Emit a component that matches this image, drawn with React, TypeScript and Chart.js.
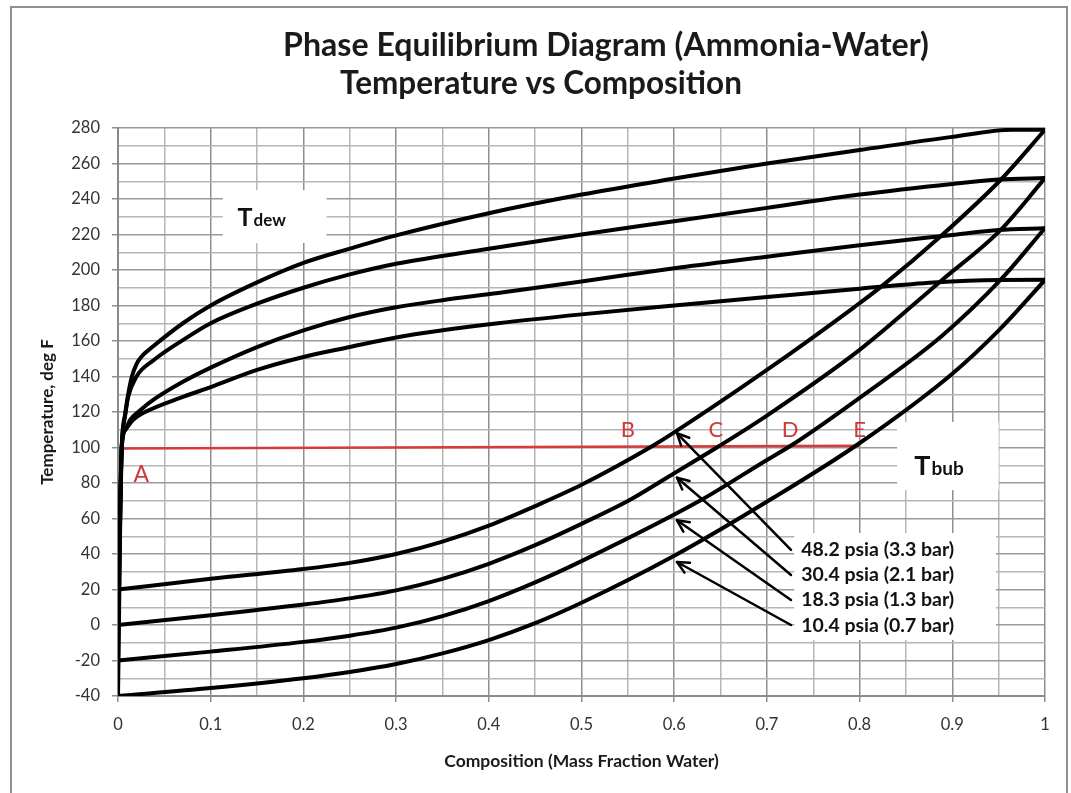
import React, { useEffect, useRef } from 'react';
import { Chart, registerables } from 'chart.js';

Chart.register(...registerables);

// ---------------- data ----------------
const PRESSURE_LABELS = ['48.2 psia (3.3 bar)', '30.4 psia (2.1 bar)', '18.3 psia (1.3 bar)', '10.4 psia (0.7 bar)'];

// Dew-point curves (upper), x = mass fraction water, T = deg F
const dew482X = [0, 0.004, 0.007, 0.01, 0.015, 0.02, 0.025, 0.038, 0.07, 0.1, 0.15, 0.2, 0.25, 0.3, 0.4, 0.5, 0.6, 0.7, 0.8, 0.9, 0.965, 1];
const dew482T = [20, 100, 116, 127, 140, 147, 151, 157, 170, 180, 193, 204, 212, 219.5, 232, 242.5, 251.5, 260, 267.6, 275, 279, 279];

const dew304X = [0, 0.004, 0.008, 0.011, 0.02, 0.038, 0.07, 0.1, 0.15, 0.2, 0.25, 0.3, 0.4, 0.5, 0.6, 0.7, 0.8, 0.9, 0.95, 1];
const dew304T = [0, 100, 119, 128.5, 140, 149, 160.5, 170, 181, 190, 197.5, 203.5, 212, 220, 227.5, 235, 242.5, 248.5, 251, 251.8];

const dew183X = [0, 0.004, 0.008, 0.013, 0.024, 0.038, 0.07, 0.1, 0.15, 0.2, 0.25, 0.3, 0.35, 0.41, 0.5, 0.6, 0.7, 0.8, 0.9, 0.95, 1];
const dew183T = [-20, 100, 110, 115.5, 121, 126.8, 137, 145, 156.6, 166, 173.5, 179, 183, 187, 193.5, 201, 207.5, 214, 219.7, 222.5, 223.5];

const dew104X = [0, 0.004, 0.008, 0.016, 0.027, 0.07, 0.1, 0.15, 0.2, 0.25, 0.3, 0.35, 0.41, 0.5, 0.6, 0.7, 0.8, 0.88, 0.95, 1];
const dew104T = [-40, 100, 110, 115.5, 119.4, 128.5, 134, 143.7, 151, 156.6, 162, 166, 170, 175, 180, 184.8, 189.5, 193, 194.4, 194.5];

// Bubble-point curves (lower)
const bub482X = [0, 0.1, 0.2, 0.25, 0.3, 0.35, 0.4, 0.45, 0.5, 0.577, 0.6, 0.7, 0.794, 0.823, 0.889, 0.952, 1];
const bub482T = [20, 26, 31.5, 35, 40, 47, 56, 67, 79, 101, 108.5, 143.7, 179, 190.5, 219.7, 250.7, 279];

const bub304X = [0, 0.1, 0.2, 0.25, 0.3, 0.35, 0.4, 0.45, 0.5, 0.552, 0.6, 0.649, 0.7, 0.8, 0.889, 0.952, 1];
const bub304T = [0, 5.5, 11.5, 15, 19.5, 26, 34.5, 45, 57, 70.4, 85.5, 101, 118, 155, 194.4, 222.5, 251.8];

const bub183X = [0, 0.1, 0.2, 0.25, 0.3, 0.35, 0.4, 0.45, 0.5, 0.629, 0.7, 0.727, 0.8, 0.889, 0.952, 1];
const bub183T = [-20, -15, -9.5, -6, -1.5, 5, 13.5, 24, 36, 70.4, 93, 101.4, 128, 163, 194.4, 223.7];

const bub104X = [0, 0.1, 0.2, 0.25, 0.3, 0.35, 0.4, 0.45, 0.5, 0.6, 0.703, 0.797, 0.9, 0.952, 1];
const bub104T = [-40, -35.5, -30, -26.5, -22, -16, -8.5, 1, 12.5, 39, 70.4, 101.4, 141.6, 167, 194.4];

// Red isotherm line A..E
const redX = [0.004, 0.8];
const redT = [99.4, 101];

// Point labels on the red line
const pointNames = ['A', 'B', 'C', 'D', 'E'];
const pointLabelX = [0.025, 0.55, 0.645, 0.725, 0.8];
const pointLabelT = [84.5, 110, 110, 110, 110];

// Arrows from pressure labels to bubble curves
const arrowTailX = [0.726, 0.726, 0.726, 0.726];
const arrowTailT = [42.3, 28.2, 14.1, 0];
const arrowHeadX = [0.603, 0.603, 0.603, 0.603];
const arrowHeadT = [108, 83, 59, 35.5];

// Pressure label anchors (left edge, vertical centre)
const pLabelX = 0.737;
const pLabelT = [42.3, 28.2, 14.1, -0.3];

// ---------------- helpers ----------------
const pts = (xs: number[], ts: number[]) => xs.map((x, i) => ({ x, y: ts[i] }));

const curve = (label: string, xs: number[], ts: number[]) => ({
  label,
  data: pts(xs, ts),
  borderColor: '#000',
  borderWidth: 4,
  pointRadius: 0,
  fill: false,
  cubicInterpolationMode: 'monotone' as const,
  borderCapStyle: 'round' as const,
  borderJoinStyle: 'round' as const,
});

const FONT = 'Lato, "Open Sans", "DejaVu Sans", sans-serif';

function fitSize(ctx: CanvasRenderingContext2D, text: string, weight: string, target: number) {
  ctx.font = `${weight} 100px ${FONT}`;
  const w = ctx.measureText(text).width || 1;
  return (100 * target) / w;
}

function drawArrow(ctx: CanvasRenderingContext2D, x1: number, y1: number, x2: number, y2: number) {
  ctx.beginPath();
  ctx.moveTo(x1, y1);
  ctx.lineTo(x2, y2);
  ctx.stroke();
  const a = Math.atan2(y2 - y1, x2 - x1);
  const L = 13;
  const sp = 0.45;
  ctx.beginPath();
  ctx.moveTo(x2 - L * Math.cos(a - sp), y2 - L * Math.sin(a - sp));
  ctx.lineTo(x2, y2);
  ctx.lineTo(x2 - L * Math.cos(a + sp), y2 - L * Math.sin(a + sp));
  ctx.stroke();
}

const isMajorX = (v: number) => Math.round(v * 20) % 2 === 0;
const isMajorY = (v: number) => Math.round(v) % 20 === 0;

const decorPlugin = {
  id: 'decor',
  beforeDraw(chart: any) {
    const { ctx, width, height } = chart;
    ctx.save();
    ctx.fillStyle = '#ffffff';
    ctx.fillRect(0, 0, width, height);
    ctx.strokeStyle = '#8f8f8f';
    ctx.lineWidth = 2;
    ctx.strokeRect(11, 7, 1056, 830);
    ctx.restore();
  },
  beforeDatasetsDraw(chart: any) {
    const { ctx } = chart;
    const xs = chart.scales.x;
    const ys = chart.scales.y;
    const box = (x0: number, x1: number, t0: number, t1: number) => {
      const px0 = xs.getPixelForValue(x0);
      const px1 = xs.getPixelForValue(x1);
      const py0 = ys.getPixelForValue(t0);
      const py1 = ys.getPixelForValue(t1);
      ctx.fillRect(px0, py0, px1 - px0, py1 - py0);
    };
    ctx.save();
    ctx.fillStyle = '#ffffff';
    box(0.113, 0.225, 245, 215.2); // Tdew box
    box(0.8405, 0.95, 114.4, 76); // Tbub box
    box(0.7295, 0.947, 51.8, -8.4); // pressure label box
    ctx.restore();
  },
  afterDatasetsDraw(chart: any) {
    const { ctx } = chart;
    const xs = chart.scales.x;
    const ys = chart.scales.y;
    const X = (v: number) => xs.getPixelForValue(v);
    const Y = (v: number) => ys.getPixelForValue(v);
    ctx.save();

    // arrows
    ctx.strokeStyle = '#000';
    ctx.lineWidth = 2.5;
    ctx.lineCap = 'round';
    ctx.lineJoin = 'round';
    for (let i = 0; i < arrowTailX.length; i++) {
      drawArrow(ctx, X(arrowTailX[i]), Y(arrowTailT[i]), X(arrowHeadX[i]), Y(arrowHeadT[i]));
    }

    // red point labels
    ctx.fillStyle = '#d2383a';
    ctx.textAlign = 'center';
    ctx.textBaseline = 'middle';
    pointNames.forEach((n, i) => {
      ctx.font = `${i === 0 ? 23 : 22}px ${FONT}`;
      ctx.fillText(n, X(pointLabelX[i]), Y(pointLabelT[i]));
    });

    // pressure labels
    ctx.fillStyle = '#111';
    ctx.textAlign = 'left';
    const ps = fitSize(ctx, PRESSURE_LABELS[0], 'bold', 153);
    ctx.font = `bold ${ps}px ${FONT}`;
    PRESSURE_LABELS.forEach((t, i) => {
      ctx.fillText(t, X(pLabelX), Y(pLabelT[i]));
    });

    // Tdew / Tbub
    const sub = (big: string, small: string, x: number, t: number, bigSize: number, smallSize: number) => {
      ctx.textBaseline = 'alphabetic';
      ctx.textAlign = 'left';
      const baseY = Y(t) + bigSize * 0.36;
      ctx.font = `bold ${bigSize}px ${FONT}`;
      ctx.fillText(big, X(x), baseY);
      const w = ctx.measureText(big).width;
      ctx.font = `bold ${smallSize}px ${FONT}`;
      ctx.fillText(small, X(x) + w + 1, baseY);
    };
    sub('T', 'dew', 0.129, 230, 25, 17);
    sub('T', 'bub', 0.859, 90, 27, 19);

    // chart titles
    ctx.textAlign = 'center';
    ctx.textBaseline = 'middle';
    ctx.fillStyle = '#1a1a1a';
    const t1 = 'Phase Equilibrium Diagram (Ammonia-Water)';
    const t2 = 'Temperature vs Composition';
    const s1 = fitSize(ctx, t1, 'bold', 646);
    ctx.font = `bold ${s1}px ${FONT}`;
    ctx.fillText(t1, 606, 46);
    const s2 = fitSize(ctx, t2, 'bold', 402);
    ctx.font = `bold ${s2}px ${FONT}`;
    ctx.fillText(t2, 541, 84);

    ctx.restore();
  },
};

export default function App() {
  const ref = useRef<HTMLCanvasElement | null>(null);

  useEffect(() => {
    if (!ref.current) return;
    const chart = new Chart(ref.current, {
      type: 'line',
      data: {
        datasets: [
          curve('Dew 48.2', dew482X, dew482T),
          curve('Dew 30.4', dew304X, dew304T),
          curve('Dew 18.3', dew183X, dew183T),
          curve('Dew 10.4', dew104X, dew104T),
          curve('Bubble 48.2', bub482X, bub482T),
          curve('Bubble 30.4', bub304X, bub304T),
          curve('Bubble 18.3', bub183X, bub183T),
          curve('Bubble 10.4', bub104X, bub104T),
          {
            label: 'Isotherm',
            data: pts(redX, redT),
            borderColor: '#d63a3a',
            borderWidth: 2.5,
            pointRadius: 0,
            fill: false,
            tension: 0,
          },
        ],
      },
      options: {
        animation: false,
        responsive: false,
        devicePixelRatio: 1,
        layout: { padding: { left: 37, right: 26, top: 128, bottom: 21 } },
        plugins: {
          legend: { display: false },
          tooltip: { enabled: false },
          title: { display: false },
        },
        scales: {
          x: {
            type: 'linear',
            min: 0,
            max: 1,
            afterFit: (s: any) => {
              s.height = 76;
            },
            ticks: {
              stepSize: 0.05,
              autoSkip: false,
              maxRotation: 0,
              padding: 13,
              color: '#333333',
              font: { family: FONT, size: 16.5 },
              callback: (v: any) => {
                const n = Number(v);
                return isMajorX(n) ? String(Math.round(n * 10) / 10) : '';
              },
            },
            grid: {
              color: (c: any) => (c.tick && isMajorX(c.tick.value) ? '#8e8e8e' : '#b6b6b6'),
              lineWidth: 1.5,
              tickLength: 6,
              tickColor: (c: any) => (c.tick && isMajorX(c.tick.value) ? '#8e8e8e' : 'rgba(0,0,0,0)'),
            },
            border: { color: '#8a8a8a', width: 2 },
            title: {
              display: true,
              text: 'Composition (Mass Fraction Water)',
              color: '#1a1a1a',
              font: { family: FONT, size: 17.5, weight: 'bold' },
              padding: 0,
            },
          },
          y: {
            type: 'linear',
            min: -40,
            max: 280,
            afterFit: (s: any) => {
              s.width = 81;
            },
            ticks: {
              stepSize: 10,
              autoSkip: false,
              padding: 12,
              color: '#333333',
              font: { family: FONT, size: 16.5 },
              callback: (v: any) => {
                const n = Number(v);
                return isMajorY(n) ? String(Math.round(n)) : '';
              },
            },
            grid: {
              color: (c: any) => (c.tick && isMajorY(c.tick.value) ? '#9a9a9a' : '#b6b6b6'),
              lineWidth: 1.5,
              tickLength: 6,
              tickColor: (c: any) => (c.tick && isMajorY(c.tick.value) ? '#8e8e8e' : 'rgba(0,0,0,0)'),
            },
            border: { color: '#8a8a8a', width: 2 },
            title: {
              display: true,
              text: 'Temperature, deg F',
              color: '#1a1a1a',
              font: { family: FONT, size: 17, weight: 'bold' },
              padding: 0,
            },
          },
        },
      },
      plugins: [decorPlugin],
    } as any);

    let alive = true;
    if ((document as any).fonts && (document as any).fonts.load) {
      Promise.all([
        (document as any).fonts.load(`bold 20px Lato`),
        (document as any).fonts.load(`20px Lato`),
      ])
        .then(() => {
          if (alive) chart.update();
        })
        .catch(() => {});
    }

    return () => {
      alive = false;
      chart.destroy();
    };
  }, []);

  return (
    <div style={{ position: 'absolute', left: 0, top: 0, width: 1071, height: 793 }}>
      <canvas ref={ref} width={1071} height={793} style={{ display: 'block' }} />
    </div>
  );
}
